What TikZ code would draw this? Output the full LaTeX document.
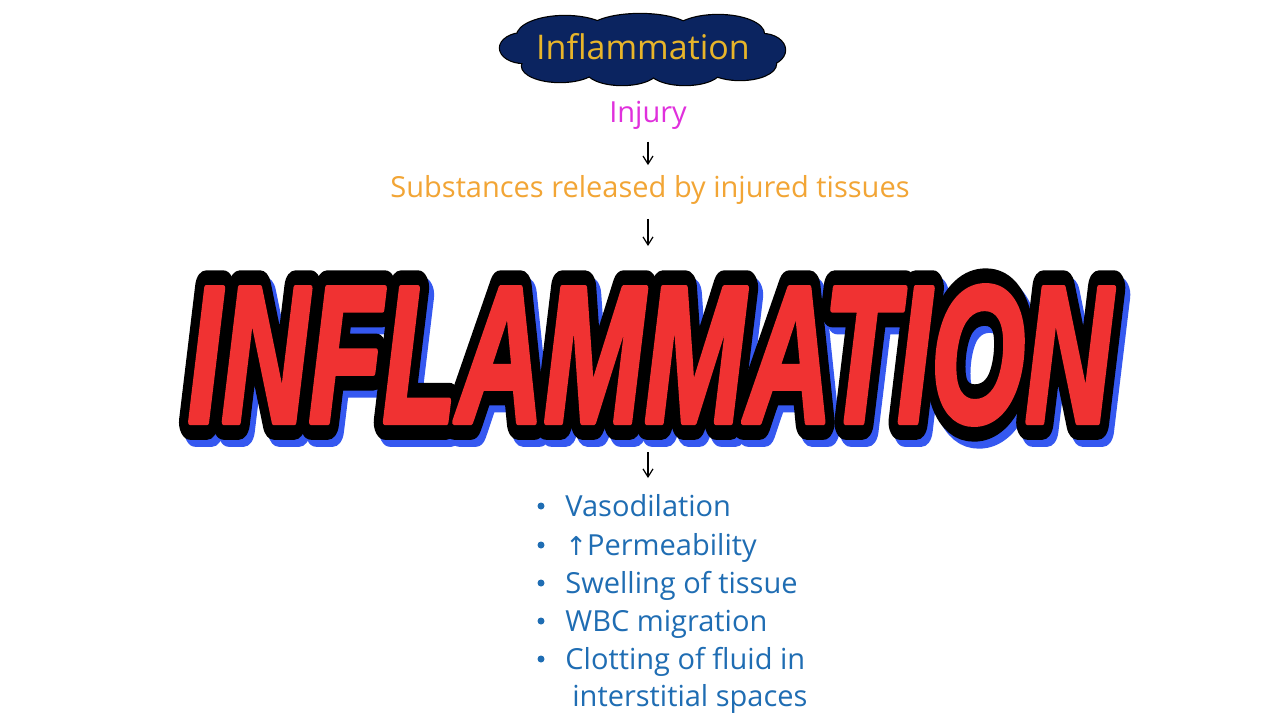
\documentclass[tikz,border=0pt]{standalone}
\usepackage{fontspec}
\setmainfont{Open Sans}
\newfontfamily\symfont{DejaVu Sans}
\newfontfamily\heavyfont{Liberation Sans Bold Italic}[FakeBold=3]
\newfontfamily\outlinefont{Liberation Sans Bold Italic}[FakeBold=18]
\usetikzlibrary{shapes.symbols,arrows.meta,calc}
\definecolor{navy}{HTML}{0B2460}
\definecolor{goldtxt}{HTML}{E8B52A}
\definecolor{magtxt}{HTML}{E030DC}
\definecolor{orangetxt}{HTML}{F2A535}
\definecolor{bluetxt}{HTML}{1F6DB3}
\definecolor{bigred}{HTML}{F03232}
\definecolor{shadowblue}{HTML}{3558F0}
\newcommand{\bigword}[1]{{\special{pdf:literal 1 j 1 J}#1\fontsize{97.5}{100}\selectfont\scalebox{0.62}[1]{INFLAMMATION}}}
\begin{document}
\begin{tikzpicture}[x=0.5pt,y=-0.5pt,
  lbl/.style={inner sep=0pt, font=\fontsize{14.5}{16}\selectfont},
  arr/.style={-{Straight Barb[length=4pt,width=5pt]}, line width=0.6pt, black},
  item/.style={lbl, text=bluetxt, anchor=base west},
  dot/.style={circle, fill=bluetxt, inner sep=0pt, minimum size=3.5pt},
  bigtxt/.style={inner sep=0pt, anchor=center}]
\useasboundingbox (0,0) rectangle (1280,720);
\fill[white] (0,0) rectangle (1280,720);

% cloud: union of ellipses, outlined
\def\cloudpuffs#1{%
  \path[#1] (643,50) ellipse[x radius=118, y radius=24];
  \path[#1] (565,36) ellipse[x radius=48, y radius=20];
  \path[#1] (640,31) ellipse[x radius=52, y radius=17];
  \path[#1] (718,34) ellipse[x radius=46, y radius=19];
  \path[#1] (560,66) ellipse[x radius=38, y radius=16];
  \path[#1] (622,70) ellipse[x radius=36, y radius=15];
  \path[#1] (685,70) ellipse[x radius=36, y radius=15];
  \path[#1] (740,64) ellipse[x radius=36, y radius=16];
  \path[#1] (524,48) ellipse[x radius=24, y radius=15];
  \path[#1] (762,50) ellipse[x radius=23, y radius=16];
}
\cloudpuffs{draw=black, line width=1.2pt}
\cloudpuffs{fill=navy}
\node[inner sep=0pt, minimum width=142pt, minimum height=35pt] (cloud) at (643,50) {};
\node[lbl, text=goldtxt, font=\fontsize{17}{18}\selectfont] (title) at (643,47) {Inflammation};

\node[lbl, text=magtxt] (injury) at (648,115) {Injury};
\node[lbl, text=orangetxt] (subst) at (650,190) {Substances released by injured tissues};

% big word: shadow, outline, fill
\node[bigtxt, text=shadowblue] (bigshadow) at (655,362) {\bigword{\outlinefont}};
\node[bigtxt, text=black] (bigoutline) at (650,355) {\bigword{\outlinefont}};
\node[bigtxt, text=bigred] (big) at (650,355) {\bigword{\heavyfont}};

\coordinate (a2e) at (648,246);
\coordinate (a3s) at (648,452);
\coordinate (a3e) at (648,478);
\draw[arr, shorten <=6pt, shorten >=5pt] (injury.south) -- (subst.north -| injury.south);
\draw[arr, shorten <=7pt] (subst.south -| a2e) -- (a2e);
\draw[arr] (a3s) -- (a3e);

\node[item] (i1) at (565,516) {Vasodilation};
\node[item] (i2) at (565,555) {{\symfont\fontsize{13}{16}\selectfont↑}Permeability};
\node[item] (i3) at (565,593) {Swelling of tissue};
\node[item] (i4) at (565,631) {WBC migration};
\node[item] (i5) at (565,669) {Clotting of fluid in};
\node[item] (i6) at (572,706) {interstitial spaces};
\foreach \k/\y in {1/506,2/545,3/583,4/621,5/659}{
  \node[dot] (d\k) at (541,\y) {};
}
\end{tikzpicture}
\end{document}
